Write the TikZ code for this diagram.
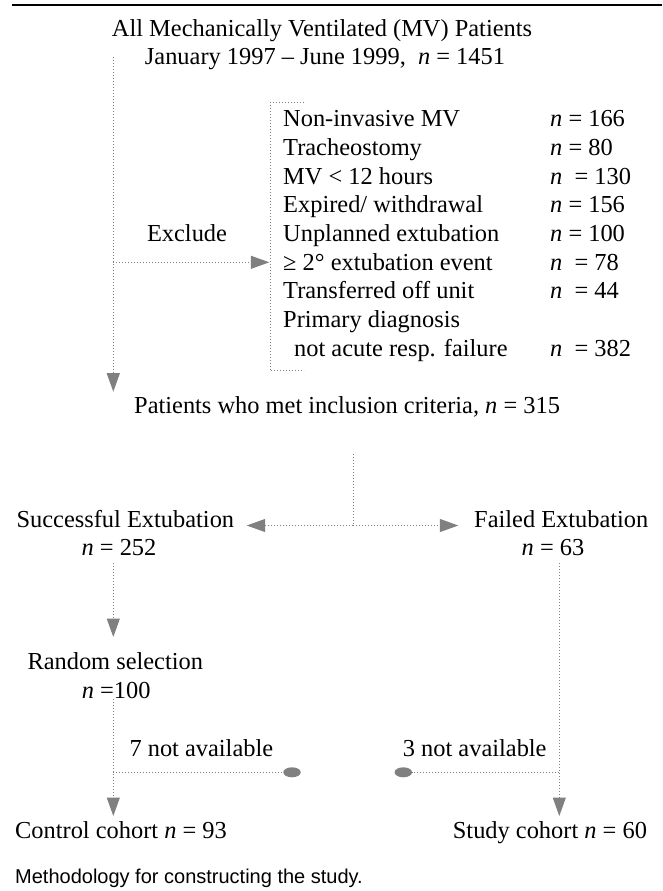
\documentclass[tikz,border=0pt]{standalone}
\usepackage{fontspec}
\setmainfont{Liberation Serif}
\newfontfamily\captionfont{Liberation Sans}
\usetikzlibrary{arrows.meta,shapes.geometric}
\definecolor{flowgray}{gray}{0.5}
\tikzset{
  txt/.style={inner sep=0pt, anchor=base west, font=\fontsize{24.4}{28.7}\selectfont},
  flow/.style={draw=flowgray, line width=1pt, dash pattern=on 1pt off 2pt},
  flowarrow/.style={flow, -{Triangle[length=18.5pt,width=13pt,fill=flowgray,color=flowgray]}},
  lostdot/.style={ellipse, fill=flowgray, inner sep=0pt, minimum width=17.5pt, minimum height=10pt}
}
\newcommand{\nn}{\textit{n}}
\begin{document}
\begin{tikzpicture}[x=1pt, y=-1pt]
    \useasboundingbox (0,0) rectangle (662,891);
    \draw[line width=1.3pt] (12,5) -- (662,5);
    % all patients
    \node[txt, anchor=base] (all) at (322,37) {All Mechanically Ventilated (MV) Patients};
    \node[txt, anchor=base] (period) at (325,65) {January 1997 -- June 1999,\ \ \nn{} = 1451};
    % exclusions
    \node[txt, anchor=base] (exclude) at (187,241.5) {Exclude};
    \node[txt] (ex1) at (283,126.7) {Non-invasive MV};
    \node[txt] (ex2) at (283,155.4) {Tracheostomy};
    \node[txt] (ex3) at (283,184.1) {MV < 12 hours};
    \node[txt] (ex4) at (283,212.8) {Expired/ withdrawal};
    \node[txt] (ex5) at (283,241.5) {Unplanned extubation};
    \node[txt] (ex6) at (283,270.2) {≥ 2° extubation event};
    \node[txt] (ex7) at (283,298.9) {Transferred off unit};
    \node[txt] (ex8) at (283,327.6) {Primary diagnosis};
    \node[txt] (ex9) at (294,356.3) {not acute resp. failure};
    \node[txt] (n1) at (550,126.7) {\nn{} = 166};
    \node[txt] (n2) at (550,155.4) {\nn{} = 80};
    \node[txt] (n3) at (550,184.1) {\nn{}\ \ = 130};
    \node[txt] (n4) at (550,212.8) {\nn{} = 156};
    \node[txt] (n5) at (550,241.5) {\nn{} = 100};
    \node[txt] (n6) at (550,270.2) {\nn{}\ \ = 78};
    \node[txt] (n7) at (550,298.9) {\nn{}\ \ = 44};
    \node[txt] (n9) at (550,356.3) {\nn{}\ \ = 382};
    \draw[flow] (304,102.7) -- (270,102.7) -- (270,370.7) -- (304,370.7);
    % trunk
    \coordinate (trunktop) at (113.3,57);
    \coordinate (trunkend) at (113.3,391.7);
    \coordinate (exctap) at (113.3,262.3);
    \coordinate (excend) at (269.3,262.3);
    \draw[flowarrow] (trunktop) -- (trunkend);
    \draw[flowarrow] (exctap) -- (excend);
    % included
    \node[txt] (incl) at (134,413) {Patients who met inclusion criteria, \nn{} = 315};
    \coordinate (splittop) at (353.3,454);
    \coordinate (splitmid) at (353.3,525.5);
    \coordinate (succend) at (246.7,525.5);
    \coordinate (failend) at (458.3,525.5);
    \draw[flow] (splittop) -- (splitmid);
    \draw[flowarrow] (splitmid) -- (succend);
    \draw[flowarrow] (splitmid) -- (failend);
    % successful branch
    \node[txt] (succ) at (16.4,527) {Successful Extubation};
    \node[txt, anchor=base] (succn) at (119,555) {\nn{} = 252};
    \node[txt] (random) at (27.3,669.3) {Random selection};
    \node[txt] (randomn) at (81.7,698.3) {\nn{} =100};
    \draw[flowarrow] (113.3,563) coordinate (succdown) -- (113.3,637) coordinate (randtip);
    \draw[flowarrow] (113.3,699) coordinate (randdown) -- (113.3,816) coordinate (ctrltip);
    \node[txt] (seven) at (129.3,756) {7 not available};
    \node[lostdot] (lost7) at (292,772.3) {};
    \draw[flow] (randdown |- lost7) -- (lost7);
    \node[txt] (control) at (15,838.3) {Control cohort \nn{} = 93};
    % failed branch
    \node[txt] (fail) at (474,527) {Failed Extubation};
    \node[txt, anchor=base] (failn) at (553,555) {\nn{} = 63};
    \draw[flowarrow] (559.3,563) coordinate (faildown) -- (559.3,816) coordinate (studytip);
    \node[txt] (three) at (402.7,756) {3 not available};
    \node[lostdot] (lost3) at (403.3,772.3) {};
    \draw[flow] (faildown |- lost3) -- (lost3);
    \node[txt] (study) at (452.7,838.3) {Study cohort \nn{} = 60};
    % caption
    \node[txt, font=\captionfont\fontsize{20}{24}\selectfont] (caption) at (15,883.3) {Methodology for constructing the study.};
\end{tikzpicture}
\end{document}
